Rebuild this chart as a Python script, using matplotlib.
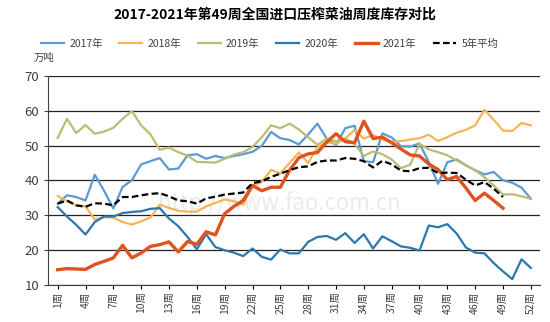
import matplotlib.pyplot as plt
import numpy as np

plt.rcParams["font.family"] = ["Noto Sans CJK SC", "DejaVu Sans"]

# weekly stocks, 10k tonnes
y2017 = [33.3, 35.7, 35.2, 34.2, 41.6, 37.0, 31.9, 38.1, 40.0, 44.6, 45.5, 46.4, 43.1,
         43.4, 47.2, 47.5, 46.2, 47.0, 46.4, 47.0, 47.5, 48.2, 49.9, 53.9, 52.1, 51.6,
         50.3, 53.2, 56.3, 52.0, 50.1, 55.0, 55.7, 45.5, 45.2, 53.5, 52.3, 49.8, 49.7,
         50.6, 45.3, 39.0, 45.2, 46.0, 44.3, 42.9, 41.7, 42.4, 40.0, 39.3, 37.9, 34.7]
y2018 = [35.5, 34.0, 32.8, 32.5, 28.7, 29.4, 29.3, 28.0, 27.3, 28.2, 29.3, 33.0, 32.1,
         31.2, 31.0, 31.0, 32.5, 33.5, 34.5, 34.0, 33.0, 38.5, 39.5, 43.0, 42.0, 45.0,
         48.0, 45.0, 49.5, 51.0, 50.5, 52.0, 54.5, 52.0, 53.0, 51.7, 51.0, 51.3, 51.7,
         52.1, 53.1, 51.3, 52.4, 53.7, 54.5, 55.8, 60.3, 57.4, 54.3, 54.2, 56.5, 55.8]
y2019 = [52.2, 57.7, 53.6, 55.9, 53.4, 54.0, 55.1, 57.7, 59.9, 55.8, 53.2, 48.8, 49.4,
         48.1, 47.1, 45.3, 45.2, 45.1, 46.2, 47.4, 48.1, 49.6, 52.4, 55.8, 55.0, 56.3,
         54.6, 52.4, 50.2, 52.0, 51.2, 52.0, 50.5, 47.0, 48.3, 47.5, 46.0, 43.5, 44.5,
         50.5, 48.9, 48.1, 47.2, 45.7, 44.3, 42.9, 40.9, 38.5, 35.9, 36.0, 35.4, 34.7]
y2020 = [32.3, 29.6, 27.2, 24.4, 28.0, 29.6, 29.6, 30.6, 30.9, 31.1, 31.8, 32.0, 29.0,
         26.8, 23.7, 20.2, 24.5, 20.8, 19.9, 19.2, 18.2, 20.4, 18.0, 17.2, 20.1, 19.0,
         19.0, 22.3, 23.7, 24.0, 22.9, 24.8, 22.0, 24.5, 20.4, 23.9, 22.5, 21.0, 20.6,
         19.8, 27.0, 26.5, 27.4, 24.7, 20.7, 19.2, 19.0, 16.2, 13.8, 11.6, 17.3, 14.8]
y2021 = [14.3, 14.6, 14.5, 14.4, 15.8, 16.7, 17.7, 21.3, 17.7, 19.1, 21.0, 21.5, 22.3,
         19.4, 22.4, 21.6, 25.2, 24.3, 30.4, 32.5, 34.2, 38.5, 37.0, 38.0, 38.0, 42.9,
         46.5, 47.6, 48.0, 51.0, 53.4, 51.1, 50.8, 57.0, 52.0, 52.4, 50.8, 49.0, 47.3,
         47.0, 44.7, 43.1, 40.2, 41.1, 37.8, 34.2, 36.3, 34.2, 32.0]
avg5 = [33.3, 34.2, 32.8, 32.4, 33.4, 33.3, 32.8, 35.2, 35.2, 35.7, 36.1, 36.3, 35.4,
        34.2, 34.0, 33.3, 34.8, 35.3, 35.9, 36.2, 36.5, 39.2, 39.7, 41.0, 41.9, 42.9,
        43.8, 44.0, 45.3, 45.7, 45.7, 46.4, 46.2, 45.5, 43.7, 45.6, 44.6, 42.8, 42.6,
        43.5, 43.6, 42.1, 42.2, 42.1, 40.2, 38.5, 39.5, 37.6, 35.2]

weeks = np.arange(1, 53)
tick_weeks = list(range(1, 53, 3))
tick_labels = [f"{w}周" for w in tick_weeks]


def main():
    fig = plt.figure(figsize=(5.5, 3.22), dpi=100)
    ax = fig.add_axes([0.088, 0.116, 0.894, 0.648])

    ax.plot(weeks, y2017, color="#5b9bd5", lw=1.6, label="2017年")
    ax.plot(weeks, y2018, color="#f5b455", lw=1.6, label="2018年")
    ax.plot(weeks, y2019, color="#bcbc72", lw=1.6, label="2019年")
    ax.plot(weeks, y2020, color="#2a78ad", lw=1.6, label="2020年")
    ax.plot(weeks[:len(y2021)], y2021, color="#e0521e", lw=2.4, label="2021年")
    ax.plot(weeks[:len(avg5)], avg5, color="black", lw=1.6, ls=(0, (3, 1.5)),
            label="5年平均")

    ax.set_xlim(0, 53)
    ax.set_ylim(10, 70)
    ax.set_yticks(range(10, 71, 10))
    ax.set_xticks(tick_weeks)
    ax.set_xticklabels(tick_labels, rotation=90, fontsize=7.5, color="#404040")
    ax.tick_params(axis="y", labelsize=9.5, colors="#404040", length=3, width=0.8)
    ax.tick_params(axis="x", length=3, width=0.8, pad=2)
    ax.grid(axis="y", color="#222222", lw=0.9)
    ax.set_axisbelow(True)
    for s in ["top", "right"]:
        ax.spines[s].set_visible(False)
    ax.spines["left"].set_color("#404040")
    ax.spines["bottom"].set_color("#404040")

    # faint watermark
    ax.text(0.47, 0.39, "http://www.fao.com.cn", transform=ax.transAxes,
            fontsize=16, color="#ebebeb", ha="center", va="center", zorder=0)

    fig.text(0.5, 0.955, "2017-2021年第49周全国进口压榨菜油周度库存对比",
             ha="center", va="center", fontsize=10, fontweight="bold")
    fig.text(0.062, 0.82, "万吨", fontsize=7.5, color="#404040",
             ha="left", va="center")

    ax.legend(loc="center", bbox_to_anchor=(0.45, 1.155), ncol=6, frameon=False,
              fontsize=7.5, handlelength=2.2, columnspacing=1.6,
              handletextpad=0.5, labelcolor="#404040")

    fig.savefig("out.png", dpi=100)


if __name__ == "__main__":
    main()
